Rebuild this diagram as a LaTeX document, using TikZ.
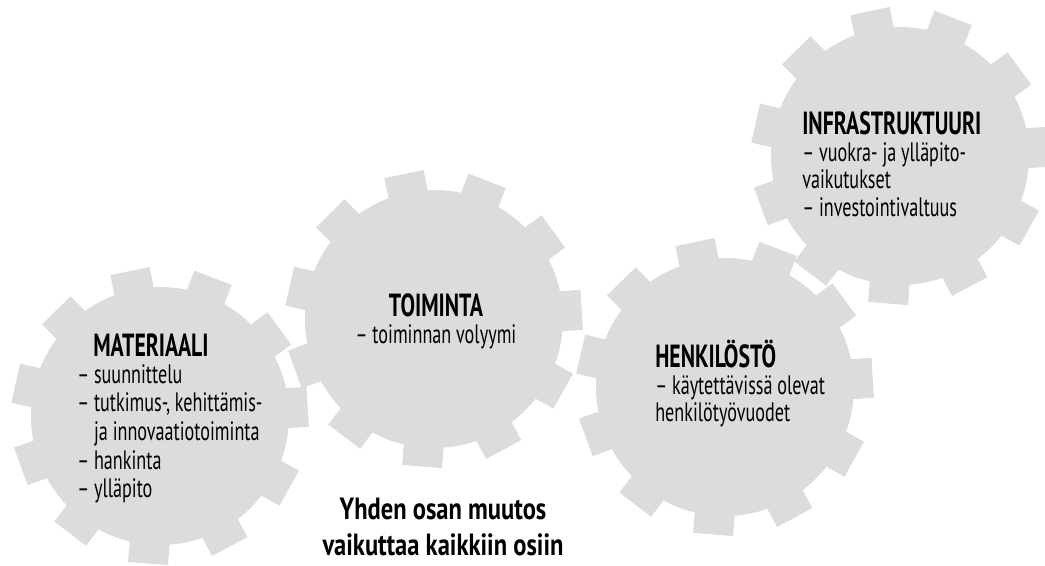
\documentclass[tikz,border=0pt]{standalone}
\usepackage{fontspec}
\setmainfont{PT Sans}[FakeStretch=0.68]
\newfontfamily\capfont{PT Sans}[FakeStretch=0.8]
\usetikzlibrary{positioning}
\definecolor{gearfill}{RGB}{220,220,220}

\begin{document}
\begin{tikzpicture}[
    x=0.75pt, y=-0.75pt,
    gear/.style={fill=gearfill},
    titletext/.style={font=\fontsize{24}{26}\selectfont\bfseries, inner sep=0pt},
    itemtext/.style={font=\fontsize{20}{20.5}\selectfont, inner sep=0pt, align=left},
    captiontext/.style={font=\capfont\fontsize{23}{27}\selectfont\bfseries, inner sep=0pt, align=center}
]
    \useasboundingbox (0,0) rectangle (1045,566);

    % Gears
    \foreach \gx/\gy in {160/416, 434/319, 725/387, 900/156} {
        \fill[gear] (\gx,\gy) circle[radius=129];
        \foreach \k in {0,...,10}
            \fill[gear, shift={(\gx,\gy)}, rotate={69+\k*360/11}] (108,-20) rectangle (148,20);
    }

    % Texts
    \node (mattitle) [titletext, anchor=base west] at (93,357) {MATERIAALI};
    \node (matlist) [itemtext, font=\fontsize{20}{21.5}\selectfont, below=5pt of mattitle.south west, anchor=north west, xshift=-12pt] {– suunnittelu\\– tutkimus-, kehittämis-\\\phantom{– }ja innovaatiotoiminta\\– hankinta\\– ylläpito};

    \node (toititle) [titletext, anchor=base] at (436,317) {TOIMINTA};
    \node (toilist) [itemtext, below=5pt of toititle] {– toiminnan volyymi};

    \node (hentitle) [titletext, anchor=base west] at (655,368) {HENKILÖSTÖ};
    \node (henlist) [itemtext, below=5pt of hentitle.south west, anchor=north west] {– käytettävissä olevat\\henkilötyövuodet};

    \node (inftitle) [titletext, anchor=base west] at (802,135) {INFRASTRUKTUURI};
    \node (inflist) [itemtext, below=5pt of inftitle.south west, anchor=north west] {– vuokra- ja ylläpito-\\vaikutukset\\– investointivaltuus};

    \node (change) [captiontext, anchor=north] at (443,498) {Yhden osan muutos\\vaikuttaa kaikkiin osiin};
\end{tikzpicture}
\end{document}
